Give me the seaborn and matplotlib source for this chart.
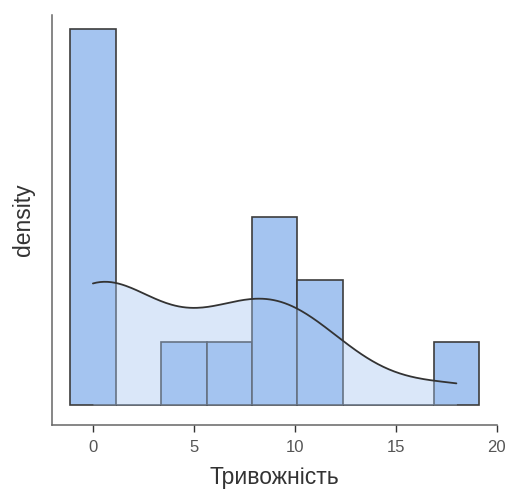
import numpy as np
import pandas as pd
import matplotlib
matplotlib.use("Agg")
import matplotlib.pyplot as plt
import seaborn as sns

# anxiety scores
scores = [0, 0, 0, 0, 0, 0, 4, 7, 8, 8, 9, 11, 11, 18]
x_label = "Тривожність"
y_label = "density"
x_ticks = [0, 5, 10, 15, 20]

df = pd.DataFrame({"Тривожність": scores})

sns.set_style("white")
plt.rcParams["font.family"] = ["Liberation Sans", "DejaVu Sans"]

bar_color = "#a4c4f0"
edge_color = "#3d3d3d"

fig = plt.figure(figsize=(5.09, 4.94), dpi=100)
ax = fig.add_axes([0.102, 0.140, 0.874, 0.830])

binwidth = 2.25
edges = np.arange(min(scores) - binwidth / 2, max(scores) + binwidth, binwidth)
sns.histplot(data=df, x="Тривожність", bins=edges, stat="density",
             color=bar_color, edgecolor=edge_color, linewidth=1.2, alpha=1,
             ax=ax, zorder=2)
sns.kdeplot(data=df, x="Тривожність", cut=0, bw_adjust=0.9, fill=True,
            color=bar_color, alpha=0.4, linewidth=0, ax=ax, zorder=3)
sns.kdeplot(data=df, x="Тривожність", cut=0, bw_adjust=0.9,
            color="#333333", linewidth=1.3, ax=ax, zorder=4)

ax.set_xlim(-2.03, 20.0)
ax.set_ylim(-0.0101, 0.1976)
ax.set_xticks(x_ticks)
ax.set_yticks([])
ax.tick_params(axis="x", direction="out", length=5, width=1, color="#333333",
               labelsize=12, labelcolor="#555555", pad=6, bottom=True)
ax.set_xlabel(x_label, fontsize=16.5, color="#333333", labelpad=8)
ax.set_ylabel(y_label, fontsize=16.5, color="#333333", labelpad=12)

sns.despine(ax=ax)
for s in ["left", "bottom"]:
    ax.spines[s].set_color("#666666")
    ax.spines[s].set_linewidth(1.1)

fig.savefig("out.png", dpi=100)
